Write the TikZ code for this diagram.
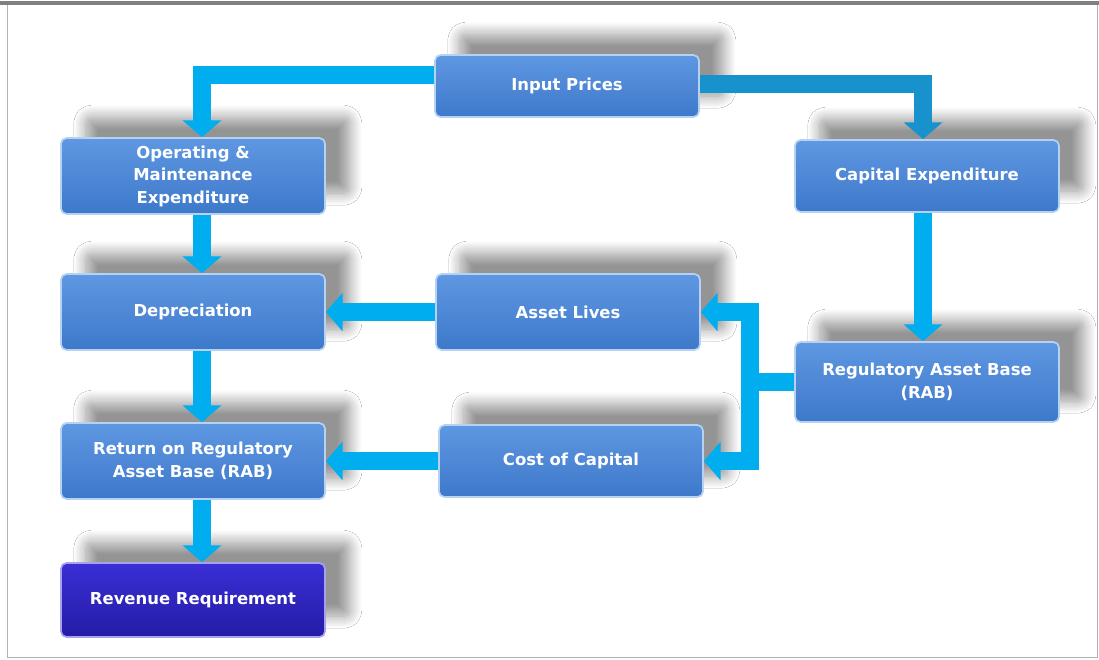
\documentclass[tikz,border=0pt]{standalone}
\usepackage{fontspec}
\setmainfont{DejaVu Sans}
\usepackage{xcolor}
\usepackage{tikz}
\usetikzlibrary{arrows.meta,shadows.blur}

\definecolor{boxtop}{RGB}{94,152,226}
\definecolor{boxbot}{RGB}{62,120,202}
\definecolor{revtop}{RGB}{58,46,214}
\definecolor{revbot}{RGB}{36,28,166}
\definecolor{flowcyan}{RGB}{0,174,239}
\definecolor{flowteal}{RGB}{24,146,204}

\tikzset{
  stage/.style={draw=white!55!boxtop, line width=1.2pt, rounded corners=4pt,
    top color=boxtop, bottom color=boxbot, text=white, align=center,
    font=\bfseries\fontsize{11.7}{16}\selectfont,
    minimum width=6.6cm, minimum height=1.9cm,
    blur shadow={shadow xshift=0.62cm, shadow yshift=0.52cm,
      shadow blur radius=0.3cm, shadow blur steps=16,
      shadow blur extra rounding=2pt, shadow opacity=42}},
  flow/.style={draw=flowcyan, line width=0.45cm,
    -{Triangle[width=0.95cm,length=0.42cm]}},
}

\begin{document}
\begin{tikzpicture}[x=0.025cm, y=-0.025cm]
    \useasboundingbox (0,0) rectangle (1099,659);
    \fill[white] (0,0) rectangle (1099,659);
    \draw[gray!60, line width=0.6pt] (7,4) rectangle (1097,657);
    \draw[gray, line width=2.2pt] (0,3) -- (1099,3);

    \node[stage, minimum height=1.55cm] (input) at (567,86) {Input Prices};
    \node[stage] (opex) at (193,176) {Operating \&\\Maintenance\\Expenditure};
    \node[stage, minimum height=1.8cm] (capex) at (927,176) {Capital Expenditure};
    \node[stage] (dep) at (193,312) {Depreciation};
    \node[stage] (lives) at (568,312) {Asset Lives};
    \node[stage, minimum height=2cm] (rab) at (927,382) {Regulatory Asset Base\\(RAB)};
    \node[stage, minimum height=1.8cm] (cost) at (571,461) {Cost of Capital};
    \node[stage] (ret) at (193,461) {Return on Regulatory\\Asset Base (RAB)};
    \node[stage, top color=revtop, bottom color=revbot, draw=white!55!revtop,
      minimum height=1.85cm] (rev) at (193,600) {Revenue Requirement};

    \coordinate (split) at (750,382);

    \draw[flow] ([yshift=0.28cm]input.west) -| ([xshift=0.225cm]opex.north);
    \draw[flow, draw=flowteal] ([yshift=0.05cm]input.east) -| ([xshift=-0.1cm]capex.north);
    \draw[flow] ([xshift=0.225cm]opex.south) -- ([xshift=0.225cm]dep.north);
    \draw[flow] ([xshift=0.225cm]dep.south) -- ([xshift=0.225cm]ret.north);
    \draw[flow] ([xshift=0.225cm]ret.south) -- ([xshift=0.225cm]rev.north);
    \draw[flow] ([xshift=-0.1cm]capex.south) -- ([xshift=-0.1cm]rab.north);
    \draw[flow] (lives.west) -- (dep.east);
    \draw[flow] (cost.west) -- (ret.east);
    \draw[flow] (rab.west) -- (split) |- (lives.east);
    \draw[flow] (split) |- (cost.east);
\end{tikzpicture}
\end{document}
